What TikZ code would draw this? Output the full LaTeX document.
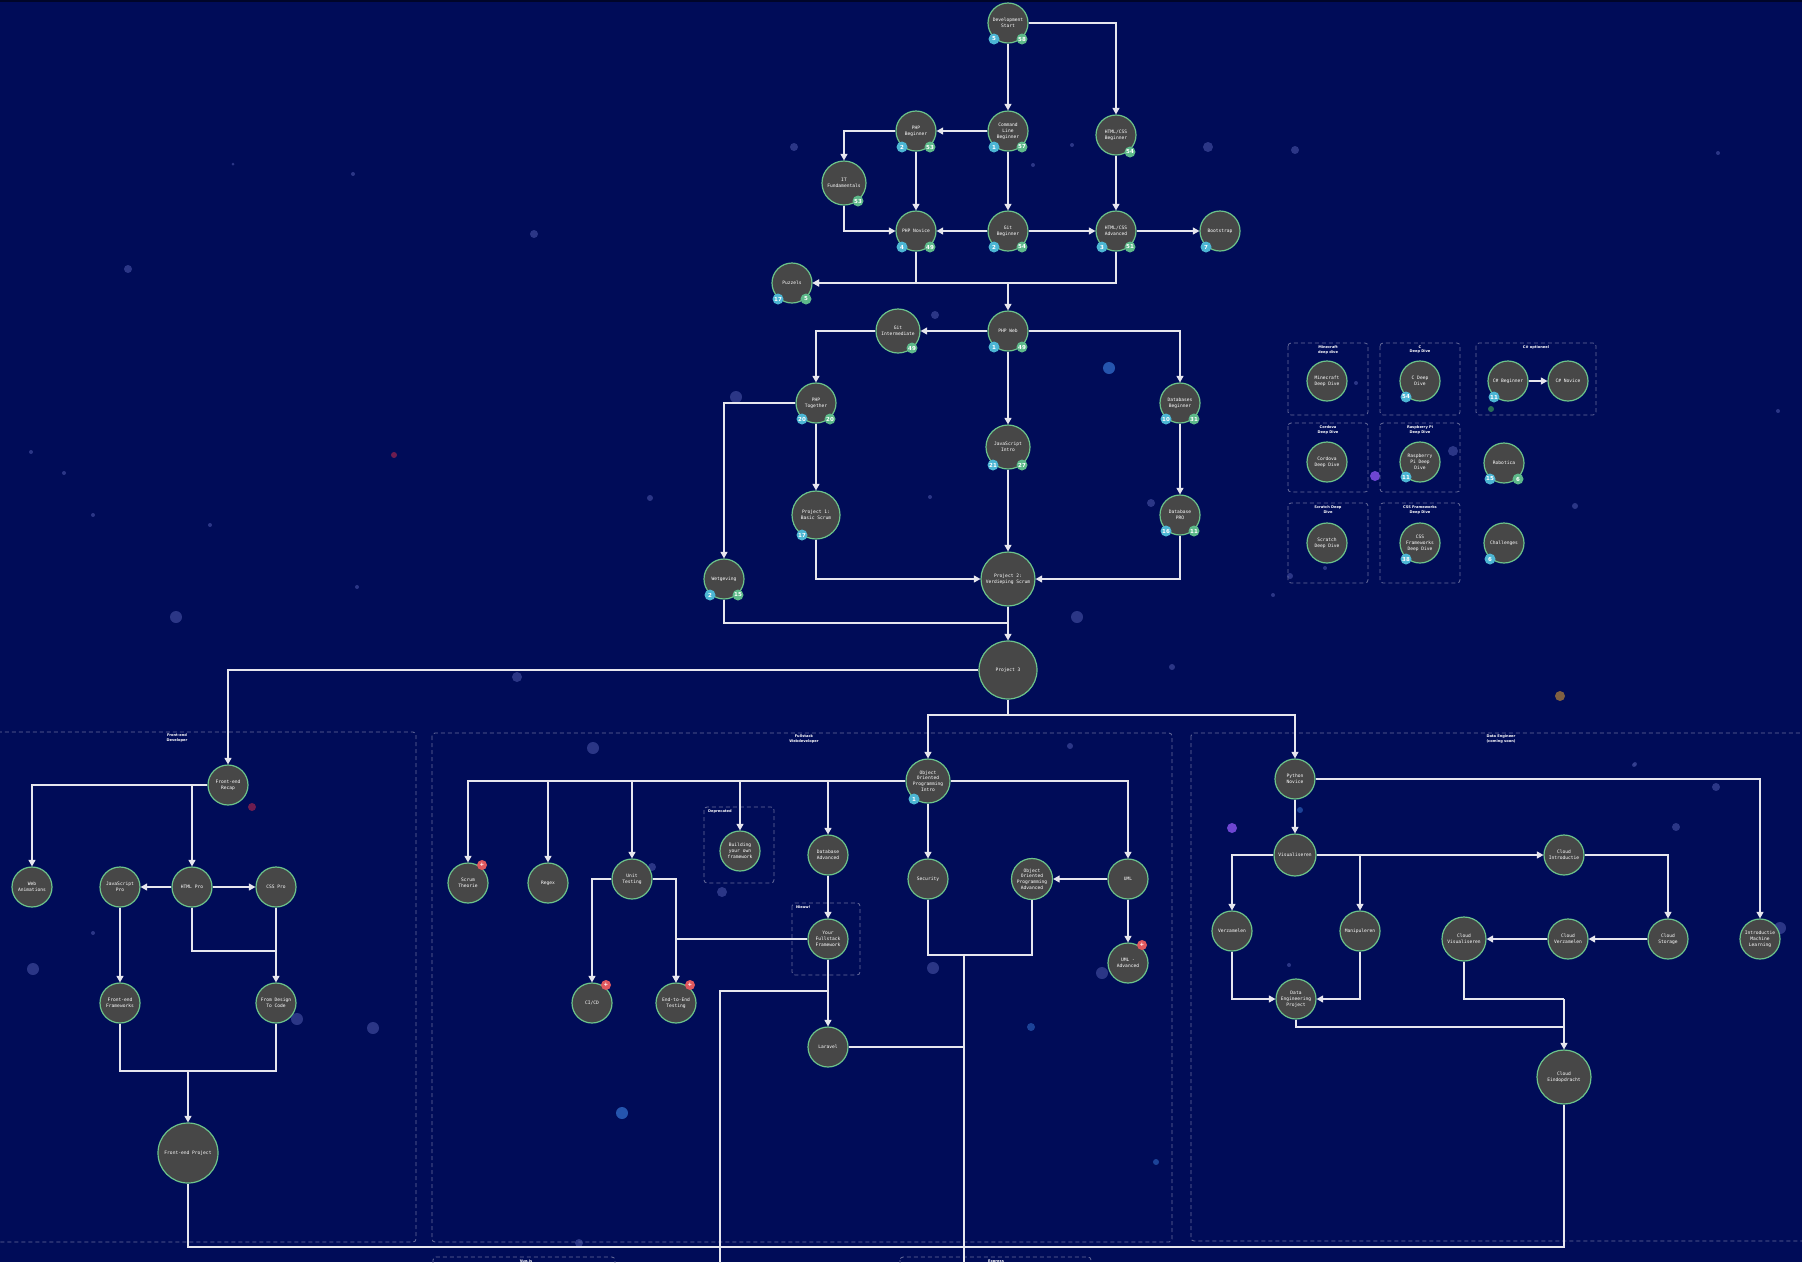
\documentclass[tikz,border=0pt]{standalone}
\usepackage{fontspec}
\usetikzlibrary{arrows.meta}
\newfontfamily\lblmono{DejaVu Sans Mono}
\newfontfamily\lblsans{DejaVu Sans}
\definecolor{bgc}{HTML}{000C58}
\definecolor{nodegray}{HTML}{474747}
\definecolor{nodegreen}{HTML}{6CC38A}
\definecolor{linec}{HTML}{E6E6EE}
\definecolor{badgeblue}{HTML}{4CB6D4}
\definecolor{badgegreen}{HTML}{5DB98A}
\definecolor{badgered}{HTML}{E0585E}
\definecolor{dashc}{HTML}{666C9A}
\definecolor{dotc}{HTML}{3A4596}
\definecolor{dotblue}{HTML}{2F68C4}
\definecolor{dotred}{HTML}{7A1F50}
\definecolor{dotpurple}{HTML}{7A4DE0}
\definecolor{dotorange}{HTML}{8F6A40}
\definecolor{dotgreen}{HTML}{2E7A5A}
\tikzset{
  topic/.style={circle, draw=nodegreen, line width=1.2pt, fill=nodegray, minimum size=40pt, inner sep=0pt, align=center, text=white, font=\lblmono\fontsize{4.6}{5.8}\selectfont},
  badge/.style={circle, inner sep=0pt, minimum size=11pt, text=white, font=\lblsans\bfseries\fontsize{5.5}{6}\selectfont},
  bblue/.style={badge, fill=badgeblue},
  bgreen/.style={badge, fill=badgegreen},
  bred/.style={badge, fill=badgered, minimum size=10pt},
  grp/.style={draw=dashc, dash pattern=on 4pt off 3pt, line width=0.8pt, rounded corners=3pt},
  grptitle/.style={text=white, font=\lblsans\bfseries\fontsize{3.6}{4.6}\selectfont, align=center, anchor=north, inner sep=0pt},
  conn/.style={draw=linec, line width=1.2pt},
  arr/.style={conn, -{Triangle[width=7pt,length=6.5pt]}},
  speck/.style={fill=dotc, opacity=0.75}
}
\newcommand{\bdgB}[4]{\node[bblue] (#1-bb) at ([shift={(#2,#3)}]#1.center) {#4};}
\newcommand{\bdgG}[4]{\node[bgreen] (#1-bg) at ([shift={(#2,#3)}]#1.center) {#4};}
\newcommand{\bdgR}[3]{\node[bred] (#1-br) at ([shift={(#2,#3)}]#1.center) {+};}
\begin{document}
\begin{tikzpicture}[x=1pt,y=-1pt]
\useasboundingbox (0,0) rectangle (1802,1262);
\clip (0,0) rectangle (1802,1262);
\fill[bgc] (0,0) rectangle (1802,1262);
\fill[black!55!bgc] (0,0) rectangle (1802,2);

% background specks
\foreach \px/\py/\pr in {794/147/4, 534/234/4, 353/174/2, 233/164/1.5, 128/269/4, 1295/150/4, 1718/153/2,
  176/617/6, 517/677/5, 1077/617/6, 593/748/6, 33/969/6, 373/1028/6, 297/1019/6, 935/315/4, 736/397/6,
  1151/503/4, 930/497/2, 933/968/6, 1102/973/6, 1070/746/3, 652/867/4, 722/892/5, 93/933/2,
  1716/787/4, 1676/827/4, 1634/765/2, 1289/965/2, 1780/928/6, 1356/383/2, 1453/451/5, 1575/506/3,
  1325/568/2, 1290/576/3, 1072/145/2, 1033/165/2, 1208/147/5, 579/1243/4, 1778/411/2, 1635/764/2,
  1172/667/3, 1273/595/2, 31/452/2, 93/515/2, 210/525/2, 357/587/2, 650/498/3, 795/523/2, 64/473/2}
  \fill[speck] (\px,\py) circle (\pr);
\fill[dotblue, opacity=0.8] (1109,368) circle (6);
\fill[dotblue, opacity=0.8] (622,1113) circle (6);
\fill[dotblue, opacity=0.6] (1300,810) circle (3);
\fill[dotblue, opacity=0.6] (1031,1027) circle (4);
\fill[dotblue, opacity=0.6] (1156,1162) circle (3);
\fill[dotred, opacity=0.9] (394,455) circle (3);
\fill[dotred, opacity=0.9] (252,807) circle (4);
\fill[dotpurple, opacity=0.9] (1375,476) circle (5);
\fill[dotpurple, opacity=0.9] (1232,828) circle (5);
\fill[dotorange, opacity=0.9] (1560,696) circle (5);
\fill[dotgreen, opacity=0.9] (1491,409) circle (3);

% group boxes
\draw[grp] (-5,732) rectangle (416,1242);
\node[grptitle] (t-fe) at (177,734) {Front-end\\Developer};
\draw[grp] (432,733) rectangle (1172,1242);
\node[grptitle] (t-fs) at (804,735) {Fullstack\\Webdeveloper};
\draw[grp] (1191,733) rectangle (1810,1241);
\node[grptitle] (t-de) at (1501,735) {Data Engineer\\(coming soon)};
\draw[grp] (704,807) rectangle (774,883);
\node[grptitle, anchor=north west] (t-dep) at (708,810) {Deprecated};
\draw[grp] (792,903) rectangle (860,975);
\node[grptitle, anchor=north west] (t-new) at (796,906) {Nieuw!};
\draw[grp] (1288,343) rectangle (1368,415);
\node[grptitle] (t-mc) at (1328,345.5) {Minecraft\\deep dive};
\draw[grp] (1380,343) rectangle (1460,415);
\node[grptitle] (t-c) at (1420,345.5) {C\\Deep Dive};
\draw[grp] (1476,343) rectangle (1596,415);
\node[grptitle] (t-cs) at (1536,345.5) {C\# optioneel};
\draw[grp] (1288,423) rectangle (1368,492);
\node[grptitle] (t-cor) at (1328,425.5) {Cordova\\Deep Dive};
\draw[grp] (1380,423) rectangle (1460,492);
\node[grptitle] (t-rpi) at (1420,425.5) {Raspberry Pi\\Deep Dive};
\draw[grp] (1288,503) rectangle (1368,583);
\node[grptitle] (t-scr) at (1328,505.5) {Scratch Deep\\Dive};
\draw[grp] (1380,503) rectangle (1460,583);
\node[grptitle] (t-css) at (1420,505.5) {CSS Frameworks\\Deep Dive};
\draw[grp] (433,1257) rectangle (615,1320);
\node[grptitle] (t-b1) at (526,1259.5) {Vue.js};
\draw[grp] (900,1257) rectangle (1091,1320);
\node[grptitle] (t-b2) at (996,1259.5) {Express};

% ---------- top part
\node[topic] (dev) at (1008,23) {Development\\Start};
\node[topic] (cli) at (1008,131) {Command\\Line\\Beginner};
\node[topic] (phpb) at (916,131) {PHP\\Beginner};
\node[topic] (htmlb) at (1116,135) {HTML/CSS\\Beginner};
\node[topic, minimum size=44pt] (itf) at (844,183) {IT\\Fundamentals};
\node[topic] (phpn) at (916,231) {PHP Novice};
\node[topic] (gitb) at (1008,231) {Git\\Beginner};
\node[topic] (htmla) at (1116,231) {HTML/CSS\\Advanced};
\node[topic] (boot) at (1220,231) {Bootstrap};
\node[topic] (puz) at (792,283) {Puzzels};
\node[topic] (phpweb) at (1008,331) {PHP Web};
\node[topic, minimum size=44pt] (giti) at (898,331) {Git\\Intermediate};
\node[topic] (phpt) at (816,403) {PHP\\Together};
\node[topic] (dbb) at (1180,403) {Databases\\Beginner};
\node[topic, minimum size=44pt] (jsi) at (1008,447) {JavaScript\\Intro};
\node[topic, minimum size=48pt] (p1) at (816,515) {Project 1:\\Basic Scrum};
\node[topic] (dbpro) at (1180,515) {Database\\PRO};
\node[topic] (wet) at (724,579) {Wetgeving};
\node[topic, minimum size=54pt] (p2) at (1008,579) {Project 2:\\Verdieping Scrum};
\node[topic, minimum size=58pt] (p3) at (1008,670) {Project 3};
\coordinate (j1) at (1008,283);
\coordinate (j2) at (1008,623);
\coordinate (j3) at (1008,715);

% ---------- deep dives
\node[topic] (mc) at (1327,381) {Minecraft\\Deep Dive};
\node[topic] (cdd) at (1420,381) {C Deep\\Dive};
\node[topic] (csb) at (1508,381) {C\# Beginner};
\node[topic] (csn) at (1568,381) {C\# Novice};
\node[topic] (cor) at (1327,462) {Cordova\\Deep Dive};
\node[topic] (rpi) at (1420,462) {Raspberry\\Pi Deep\\Dive};
\node[topic] (rob) at (1504,463) {Robotica};
\node[topic] (scr) at (1327,543) {Scratch\\Deep Dive};
\node[topic] (cssf) at (1420,543) {CSS\\Frameworks\\Deep Dive};
\node[topic] (chal) at (1504,543) {Challenges};

% ---------- front-end
\node[topic] (fer) at (228,785) {Front-end\\Recap};
\node[topic] (weba) at (32,887) {Web\\Animations};
\node[topic] (jsp) at (120,887) {JavaScript\\Pro};
\node[topic] (htmlp) at (192,887) {HTML Pro};
\node[topic] (cssp) at (276,887) {CSS Pro};
\node[topic] (fef) at (120,1003) {Front-end\\Frameworks};
\node[topic] (fdc) at (276,1003) {From Design\\To Code};
\node[topic, minimum size=60pt] (fep) at (188,1153) {Front-end Project};
\coordinate (j4) at (276,951);
\coordinate (j5) at (188,1071);
\coordinate (j6) at (188,1247);
\coordinate (j7) at (1564,1247);

% ---------- fullstack
\node[topic, minimum size=44pt] (oop) at (928,781) {Object\\Oriented\\Programming\\Intro};
\node[topic] (scrum) at (468,883) {Scrum\\Theorie};
\node[topic] (regex) at (548,883) {Regex};
\node[topic] (unit) at (632,879) {Unit\\Testing};
\node[topic] (byof) at (740,851) {Building\\your own\\framework};
\node[topic] (dba) at (828,855) {Database\\Advanced};
\node[topic] (yff) at (828,939) {Your\\Fullstack\\Framework};
\node[topic] (cicd) at (592,1003) {CI/CD};
\node[topic] (e2e) at (676,1003) {End-to-End\\Testing};
\node[topic] (lar) at (828,1047) {Laravel};
\node[topic] (sec) at (928,879) {Security};
\node[topic, minimum size=41pt] (oopa) at (1032,879) {Object\\Oriented\\Programming\\Advanced};
\node[topic] (uml) at (1128,879) {UML};
\node[topic] (umla) at (1128,963) {UML -\\Advanced};
\coordinate (j8) at (964,955);
\coordinate (jb1) at (964,1270);
\coordinate (j9) at (828,991);
\coordinate (jb2) at (720,1270);
\coordinate (j10) at (964,1047);

% ---------- data engineer
\node[topic] (pyn) at (1295,779) {Python\\Novice};
\node[topic, minimum size=42pt] (vis) at (1295,855) {Visualiseren};
\node[topic] (cli2) at (1564,855) {Cloud\\Introductie};
\node[topic] (verz) at (1232,931) {Verzamelen};
\node[topic] (man) at (1360,931) {Manipuleren};
\node[topic] (dep) at (1296,999) {Data\\Engineering\\Project};
\node[topic, minimum size=44pt] (cvis) at (1464,939) {Cloud\\Visualiseren};
\node[topic] (cverz) at (1568,939) {Cloud\\Verzamelen};
\node[topic] (cst) at (1668,939) {Cloud\\Storage};
\node[topic] (iml) at (1760,939) {Introductie\\Machine\\Learning};
\node[topic, minimum size=54pt] (ceind) at (1564,1077) {Cloud\\Eindopdracht};
\coordinate (j11) at (1564,999);
\coordinate (j12) at (1564,1027);

% ---------- connectors: top
\draw[arr] (dev) -- (cli);
\draw[arr] (dev) -| (htmlb);
\draw[arr] (cli) -- (phpb);
\draw[arr] (phpb) -| (itf);
\draw[arr] (phpb) -- (phpn);
\draw[arr] (itf) |- (phpn);
\draw[arr] (cli) -- (gitb);
\draw[arr] (gitb) -- (phpn);
\draw[arr] (gitb) -- (htmla);
\draw[arr] (htmlb) -- (htmla);
\draw[arr] (htmla) -- (boot);
\draw[arr] (phpn) |- (puz);
\draw[arr] (htmla) |- (puz);
\draw[arr] (j1) -- (phpweb);
\draw[arr] (phpweb) -- (giti);
\draw[arr] (giti) -| (phpt);
\draw[arr] (phpweb) -| (dbb);
\draw[arr] (phpweb) -- (jsi);
\draw[arr] (phpt) -| (wet);
\draw[arr] (phpt) -- (p1);
\draw[arr] (p1) |- (p2);
\draw[arr] (jsi) -- (p2);
\draw[arr] (dbb) -- (dbpro);
\draw[arr] (dbpro) |- (p2);
\draw[arr] (p2) -- (p3);
\draw[conn] (wet) |- (j2);
\draw[arr] (p3) -| (fer);
\draw[conn] (p3) -- (j3);
\draw[arr] (j3) -| (oop);
\draw[arr] (j3) -| (pyn);
\draw[arr] (csb) -- (csn);

% ---------- connectors: front-end
\draw[arr] (fer) -| (weba);
\draw[arr] (htmlp |- fer) -- (htmlp);
\draw[arr] (htmlp) -- (jsp);
\draw[arr] (htmlp) -- (cssp);
\draw[arr] (jsp) -- (fef);
\draw[arr] (cssp) -- (fdc);
\draw[conn] (htmlp) |- (j4);
\draw[conn] (fef) |- (j5);
\draw[conn] (fdc) |- (j5);
\draw[arr] (j5) -- (fep);
\draw[conn] (fep) -- (j6) -- (j7) -- (ceind);

% ---------- connectors: fullstack
\draw[arr] (oop) -| (scrum);
\draw[arr] (regex |- oop) -- (regex);
\draw[arr] (unit |- oop) -- (unit);
\draw[arr] (byof |- oop) -- (byof);
\draw[arr] (dba |- oop) -- (dba);
\draw[arr] (oop) -| (uml);
\draw[arr] (oop) -- (sec);
\draw[arr] (uml) -- (oopa);
\draw[arr] (uml) -- (umla);
\draw[conn] (sec) |- (j8);
\draw[conn] (oopa) |- (j8);
\draw[conn] (j8) -- (jb1);
\draw[arr] (unit) -| (cicd);
\draw[arr] (unit) -| (e2e);
\draw[arr] (yff) -| (e2e);
\draw[arr] (dba) -- (yff);
\draw[arr] (yff) -- (lar);
\draw[conn] (j9) -| (jb2);
\draw[conn] (lar) -- (j10);

% ---------- connectors: data engineer
\draw[arr] (pyn) -| (iml);
\draw[arr] (pyn) -- (vis);
\draw[arr] (vis) -| (verz);
\draw[arr] (vis) -- (cli2);
\draw[arr] (man |- vis) -- (man);
\draw[arr] (cli2) -| (cst);
\draw[arr] (cst) -- (cverz);
\draw[arr] (cverz) -- (cvis);
\draw[arr] (verz) |- (dep);
\draw[arr] (man) |- (dep);
\draw[conn] (cvis) |- (j11);
\draw[arr] (j11) -- (ceind);
\draw[conn] (dep) |- (j12);

% ---------- badges
\bdgB{dev}{-14}{16}{5}  \bdgG{dev}{14}{16}{58}
\bdgB{cli}{-14}{16}{1}  \bdgG{cli}{14}{16}{57}
\bdgB{phpb}{-14}{16}{2} \bdgG{phpb}{14}{16}{53}
\bdgG{htmlb}{14}{17}{54}
\bdgG{itf}{14}{18}{53}
\bdgB{phpn}{-14}{16}{4} \bdgG{phpn}{14}{16}{49}
\bdgB{gitb}{-14}{16}{2} \bdgG{gitb}{14}{16}{54}
\bdgB{htmla}{-14}{16}{3} \bdgG{htmla}{14}{16}{51}
\bdgB{boot}{-14}{16}{7}
\bdgB{puz}{-14}{16}{17} \bdgG{puz}{14}{16}{5}
\bdgB{phpweb}{-14}{16}{1} \bdgG{phpweb}{14}{16}{49}
\bdgG{giti}{14}{17}{49}
\bdgB{phpt}{-14}{16}{20} \bdgG{phpt}{14}{16}{20}
\bdgB{dbb}{-14}{16}{10} \bdgG{dbb}{14}{16}{31}
\bdgB{jsi}{-15}{18}{21} \bdgG{jsi}{14}{18}{27}
\bdgB{p1}{-14}{20}{17}
\bdgB{dbpro}{-14}{16}{16} \bdgG{dbpro}{14}{16}{11}
\bdgB{wet}{-14}{16}{2} \bdgG{wet}{14}{16}{15}
\bdgB{cdd}{-14}{16}{54}
\bdgB{csb}{-14}{16}{11}
\bdgB{rpi}{-14}{15}{11}
\bdgB{rob}{-14}{16}{15} \bdgG{rob}{14}{16}{6}
\bdgB{cssf}{-14}{16}{38}
\bdgB{chal}{-14}{16}{6}
\bdgB{oop}{-14}{18}{1}
\bdgR{scrum}{14}{-18}
\bdgR{cicd}{14}{-18}
\bdgR{e2e}{14}{-18}
\bdgR{umla}{14}{-18}
\end{tikzpicture}
\end{document}
